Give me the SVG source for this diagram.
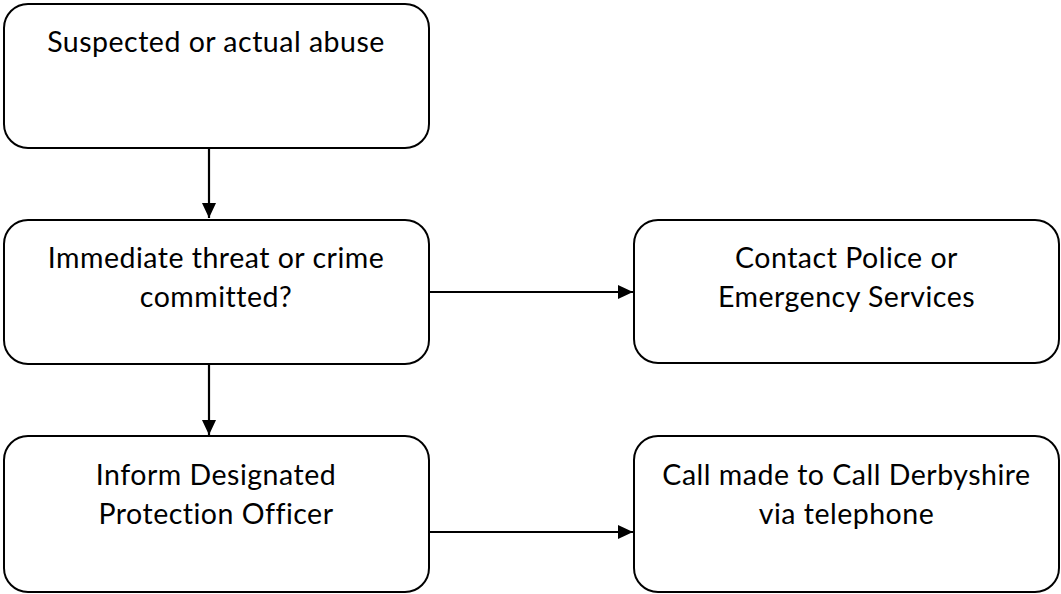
<svg xmlns="http://www.w3.org/2000/svg" width="1061" height="594" viewBox="0 0 1061 594">
<style>
.box{fill:#fff;stroke:#000;stroke-width:2}
.t{font-family:Lato,"Liberation Sans",sans-serif;font-size:28.5px;letter-spacing:0.5px;fill:#000;text-anchor:middle}
.c{stroke:#000;stroke-width:2.2;fill:none}
</style>
<defs>
<marker id="ah" markerUnits="userSpaceOnUse" markerWidth="15" markerHeight="14" viewBox="0 0 15 14" refX="15" refY="7" orient="auto">
<path d="M0,0 L15,7 L0,14 Z" fill="#000"/>
</marker>
</defs>
<rect width="1061" height="594" fill="#fff"/>
<g id="connectors">
<line class="c" x1="209" y1="148" x2="209" y2="218" marker-end="url(#ah)"/>
<line class="c" x1="209" y1="364" x2="209" y2="435" marker-end="url(#ah)"/>
<line class="c" x1="429" y1="292" x2="633" y2="292" marker-end="url(#ah)"/>
<line class="c" x1="429" y1="532" x2="633" y2="532" marker-end="url(#ah)"/>
</g>
<g id="n1">
<rect class="box" x="4" y="4" width="425" height="144" rx="24"/>
<text class="t" x="216" y="52">Suspected or actual abuse</text>
</g>
<g id="n2">
<rect class="box" x="4" y="220" width="425" height="144" rx="24"/>
<text class="t" x="216" y="268">Immediate threat or crime</text>
<text class="t" x="216" y="307">committed?</text>
</g>
<g id="n3">
<rect class="box" x="4" y="436" width="425" height="156" rx="24"/>
<text class="t" x="216" y="485">Inform Designated</text>
<text class="t" x="216" y="524">Protection Officer</text>
</g>
<g id="n4">
<rect class="box" x="634" y="220" width="425" height="143" rx="24"/>
<text class="t" x="846.5" y="268">Contact Police or</text>
<text class="t" x="846.5" y="307">Emergency Services</text>
</g>
<g id="n5">
<rect class="box" x="634" y="436" width="425" height="156" rx="24"/>
<text class="t" x="846.5" y="485">Call made to Call Derbyshire</text>
<text class="t" x="846.5" y="524">via telephone</text>
</g>
</svg>
